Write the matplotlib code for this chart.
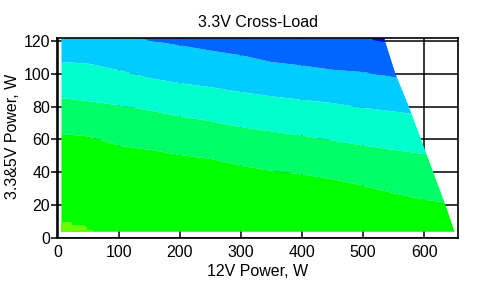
import matplotlib
matplotlib.use("Agg")
import matplotlib.pyplot as plt
from matplotlib.patches import Polygon

plt.rcParams['font.family'] = ['Liberation Sans', 'DejaVu Sans']
plt.rcParams['font.size'] = 11.5

p12 = [5, 50, 100, 150, 200, 250, 300, 350, 400, 450, 500, 550, 600, 650]

# 3.3&5V load (W) at which the colour changes, bottom to top
floor = [3.7] * len(p12)
green_top = [63.6, 62.1, 56.4, 53.9, 50.8, 48.3, 44.2, 41.1, 38.9, 36.0, 32.0, 27.4, 23.5, 21.0]
lgreen_top = [85.4, 83.6, 81.0, 77.9, 74.2, 71.4, 67.7, 65.1, 62.6, 59.6, 56.5, 53.9, 51.3, 49.3]
aqua_top = [107.5, 106.4, 102.4, 97.6, 94.5, 92.1, 89.1, 86.5, 84.4, 82.4, 79.5, 77.3, 74.8, 72.8]
cyan_top = [126, 125, 124.5, 120.5, 117.5, 114.4, 111.5, 107.4, 105.3, 102.7, 101.3, 98.2, 95.5, 93.0]
blue_top = [126, 126, 126, 126, 126, 126, 126, 126, 126, 126, 122.0, 118.5, 118.5, 118.5]
ceiling = [126] * len(p12)

# small yellow-green patch at light load
yg_x = [4.9, 23.4, 44.2, 47, 57.8]
yg_top = [9.6, 7.7, 6.4, 4.8, 4.8]

# maximum combined load boundary (right edge of the tested area)
edge_y = [3.7, 20, 40, 60, 80, 100, 120, 121.6]
edge_x = [650, 635, 615, 595, 575, 553, 536, 535]

bands = [
    (floor, green_top, '#00ff00'),
    (green_top, lgreen_top, '#00ff66'),
    (lgreen_top, aqua_top, '#00ffcc'),
    (aqua_top, cyan_top, '#00ccff'),
    (cyan_top, blue_top, '#0066ff'),
    (blue_top, ceiling, '#0000ff'),
]

fig = plt.figure(figsize=(4.87, 2.86), dpi=100)
ax = fig.add_axes([57.3 / 487, 1 - 238.3 / 286, 401 / 487, 200 / 286])

area = Polygon([(4.9, 3.7)] + list(zip(edge_x, edge_y)) + [(4.9, 121.6)],
               closed=True, transform=ax.transData)

fills = []
for lo, hi, col in bands:
    fills.append(ax.fill_between(p12, lo, hi, color=col, lw=0, antialiased=False))
fills.append(ax.fill_between(yg_x, floor[:len(yg_x)], yg_top, step='post',
                             color='#66ff00', lw=0, antialiased=False))
for f in fills:
    f.set_clip_path(area)

ax.set_xlim(-1, 656)
ax.set_ylim(-0.3, 121.6)
ax.set_xticks([0, 100, 200, 300, 400, 500, 600])
ax.set_yticks([0, 20, 40, 60, 80, 100, 120])
ax.set_axisbelow(True)
ax.grid(True, color='black', lw=1.1)
for s in ax.spines.values():
    s.set_linewidth(1.2)
ax.tick_params(axis='x', length=0, pad=5)
ax.tick_params(axis='y', length=4, width=1.1, pad=1)

ax.set_title('3.3V Cross-Load', pad=8, fontsize=11.5)
fig.text(257.8 / 487, 1 - 276 / 286, '12V Power, W', ha='center', va='baseline')
fig.text(12.5 / 487, 1 - 136 / 286, '3.3&5V Power, W', rotation=90, ha='center', va='center')

fig.savefig('out.png', dpi=100)
